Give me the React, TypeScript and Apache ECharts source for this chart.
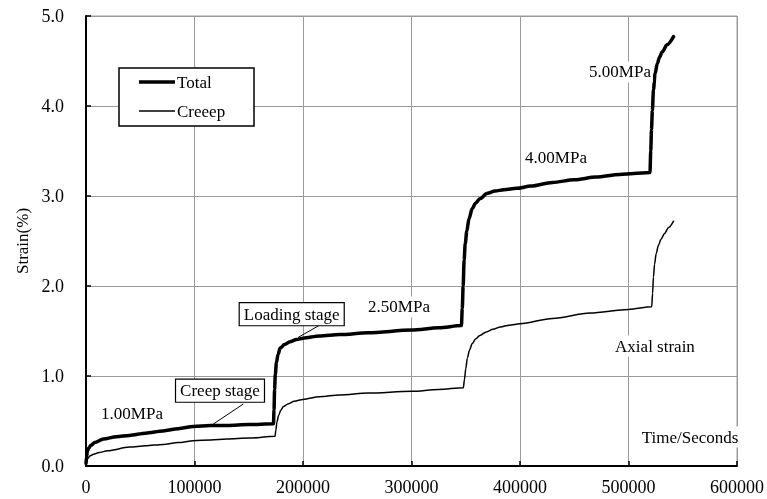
import React, { useEffect, useRef } from "react";
import * as echarts from "echarts";

// Total strain curve (time in seconds, strain in %)
const totalTime = [
  0, 500, 1200, 2500, 4500, 8000, 16000, 28000, 40000, 55000, 71000, 85000,
  99000, 115000, 130000, 150000, 172800,
  173300, 173800, 174500, 175500, 177000, 179000, 183000, 188000, 194000,
  200000, 215000, 234000, 260000, 300000, 325000, 346000,
  346800, 347600, 348500, 349500, 351000, 353000, 356000, 359000, 363000,
  370000, 377000, 385000, 397000, 410000, 430000, 450000, 470000, 492000,
  505000, 519800,
  520500, 521200, 522000, 523000, 524500, 526500, 528500, 531000, 535500, 541500,
];
const totalStrain = [
  0.03, 0.1, 0.16, 0.2, 0.23, 0.26, 0.3, 0.325, 0.34, 0.365, 0.39, 0.415,
  0.44, 0.45, 0.45, 0.46, 0.47,
  0.62, 0.85, 1.02, 1.15, 1.24, 1.31, 1.35, 1.38, 1.405,
  1.42, 1.445, 1.46, 1.48, 1.51, 1.535, 1.56,
  1.75, 2.0, 2.29, 2.47, 2.61, 2.75, 2.86, 2.92, 2.97,
  3.03, 3.055, 3.07, 3.085, 3.11, 3.15, 3.18, 3.21, 3.24,
  3.25, 3.26,
  3.5, 3.74, 3.95, 4.18, 4.36, 4.47, 4.54, 4.6, 4.68, 4.77,
];

// Creep (axial) strain curve
const creepTime = [
  0, 500, 1500, 3500, 7000, 12000, 20000, 40000, 55000, 71000, 85000, 99000,
  115000, 130000, 150000, 174200,
  175000, 176000, 177500, 179500, 182000, 186000, 192000, 200000, 215000,
  234000, 260000, 300000, 325000, 347800,
  348800, 350000, 351500, 353500, 356000, 359000, 363000, 369000, 375000,
  382000, 390000, 400000, 430000, 464500, 500000, 521400,
  522200, 523000, 524000, 525500, 527500, 530000, 533000, 537000, 541500,
];
const creepStrain = [
  0.0, 0.04, 0.08, 0.11, 0.13, 0.15, 0.17, 0.21, 0.225, 0.24, 0.26, 0.28,
  0.29, 0.3, 0.31, 0.33,
  0.4, 0.49, 0.56, 0.62, 0.66, 0.69, 0.72, 0.74, 0.77,
  0.79, 0.81, 0.83, 0.85, 0.87,
  0.96, 1.08, 1.2, 1.29, 1.36, 1.41, 1.45, 1.49, 1.52,
  1.545, 1.565, 1.58, 1.64, 1.7, 1.74, 1.77,
  1.92, 2.1, 2.24, 2.36, 2.45, 2.52, 2.58, 2.65, 2.72,
];

const seriesNames = ["Total", "Creeep"];
const yTicks = [0, 1, 2, 3, 4, 5];
const xTicks = [0, 100000, 200000, 300000, 400000, 500000, 600000];

// Plain text notes placed at data coordinates [time, strain]
const noteTexts = ["1.00MPa", "2.50MPa", "4.00MPa", "5.00MPa", "Axial strain", "Time/Seconds"];
const notePositions: [number, number][] = [
  [42400, 0.58],
  [288500, 1.767],
  [433200, 3.433],
  [492200, 4.378],
  [524400, 1.333],
  [556700, 0.322],
];

// Boxed callouts: label, box centre, leader start and leader end
const calloutTexts = ["Creep stage", "Loading stage"];
const calloutCentres: [number, number][] = [
  [123500, 0.837],
  [189600, 1.687],
];
const leaderFrom: [number, number][] = [
  [145000, 0.689],
  [215700, 1.567],
];
const leaderTo: [number, number][] = [
  [116100, 0.456],
  [195400, 1.428],
];

const FONT = "Times New Roman";

export default function App() {
  const ref = useRef<HTMLDivElement>(null);

  useEffect(() => {
    if (!ref.current) return;
    const chart = echarts.init(ref.current, undefined, { renderer: "svg" });

    const pairs = (xs: number[], ys: number[]) => xs.map((x, i) => [x, ys[i]]);

    chart.setOption({
      animation: false,
      grid: {
        left: 86,
        right: 30,
        top: 16,
        bottom: 33,
        show: true,
        borderColor: "#9a9a9a",
        borderWidth: 1,
      },
      xAxis: {
        type: "value",
        min: xTicks[0],
        max: xTicks[xTicks.length - 1],
        interval: 100000,
        axisLine: { show: true, onZero: false, lineStyle: { color: "#000", width: 2 } },
        axisTick: { show: true, inside: true, length: 5, lineStyle: { color: "#000", width: 1.5 } },
        axisLabel: {
          color: "#000",
          fontSize: 18,
          fontFamily: FONT,
          margin: 12,
          formatter: (v: number) => String(v),
        },
        splitLine: { show: true, lineStyle: { color: "#9a9a9a", width: 1 } },
      },
      yAxis: {
        type: "value",
        min: yTicks[0],
        max: yTicks[yTicks.length - 1],
        interval: 1,
        name: "Strain(%)",
        nameLocation: "middle",
        nameRotate: 90,
        nameGap: 55,
        nameTextStyle: { color: "#000", fontSize: 17, fontFamily: FONT },
        axisLine: { show: true, onZero: false, lineStyle: { color: "#000", width: 2 } },
        axisTick: { show: true, inside: true, length: 5, lineStyle: { color: "#000", width: 1.5 } },
        axisLabel: {
          color: "#000",
          fontSize: 18,
          fontFamily: FONT,
          margin: 22,
          formatter: (v: number) => v.toFixed(1),
        },
        splitLine: { show: true, lineStyle: { color: "#9a9a9a", width: 1 } },
      },
      series: [
        {
          name: seriesNames[0],
          type: "line",
          data: pairs(totalTime, totalStrain),
          showSymbol: false,
          symbol: "none",
          smooth: 0.3,
          smoothMonotone: "x",
          lineStyle: { color: "#000", width: 3.5, join: "round", cap: "round" },
          z: 5,
        },
        {
          name: seriesNames[1],
          type: "line",
          data: pairs(creepTime, creepStrain),
          showSymbol: false,
          symbol: "none",
          smooth: 0.3,
          smoothMonotone: "x",
          lineStyle: { color: "#000", width: 1.5, join: "round", cap: "round" },
          z: 4,
        },
      ],
    });

    const px = (p: [number, number]) => chart.convertToPixel({ gridIndex: 0 }, p) as number[];

    const elements: any[] = [];

    // legend box
    elements.push({
      type: "rect",
      z: 100,
      shape: { x: 119, y: 68, width: 135, height: 58 },
      style: { fill: "#fff", stroke: "#000", lineWidth: 1.5 },
    });
    const legendWidths = [3.5, 1.5];
    const legendYs = [82, 111];
    seriesNames.forEach((name, i) => {
      elements.push({
        type: "line",
        z: 101,
        shape: { x1: 139, y1: legendYs[i], x2: 175, y2: legendYs[i] },
        style: { stroke: "#000", lineWidth: legendWidths[i] },
      });
      elements.push({
        type: "text",
        z: 101,
        x: 177,
        y: legendYs[i],
        style: {
          text: name,
          fill: "#000",
          fontFamily: FONT,
          fontSize: 17,
          align: "left",
          verticalAlign: "middle",
        },
      });
    });

    // plain notes with white backing
    noteTexts.forEach((t, i) => {
      const [x, y] = px(notePositions[i]);
      elements.push({
        type: "text",
        z: 100,
        x,
        y,
        style: {
          text: t,
          fill: "#000",
          fontFamily: FONT,
          fontSize: 17,
          align: "center",
          verticalAlign: "middle",
          backgroundColor: "#fff",
          padding: [2, 2],
        },
      });
    });

    // boxed callouts with leader lines
    calloutTexts.forEach((t, i) => {
      const [x1, y1] = px(leaderFrom[i]);
      const [x2, y2] = px(leaderTo[i]);
      elements.push({
        type: "line",
        z: 99,
        shape: { x1, y1, x2, y2 },
        style: { stroke: "#000", lineWidth: 1 },
      });
      const [cx, cy] = px(calloutCentres[i]);
      elements.push({
        type: "text",
        z: 100,
        x: cx,
        y: cy,
        style: {
          text: t,
          fill: "#000",
          fontFamily: FONT,
          fontSize: 17,
          align: "center",
          verticalAlign: "middle",
          backgroundColor: "#fff",
          borderColor: "#000",
          borderWidth: 1.2,
          padding: [3, 4, 2, 4],
        },
      });
    });

    chart.setOption({ graphic: { elements } });

    return () => chart.dispose();
  }, []);

  return (
    <div
      ref={ref}
      style={{ position: "fixed", left: 0, top: 0, width: 767, height: 499 }}
    />
  );
}
